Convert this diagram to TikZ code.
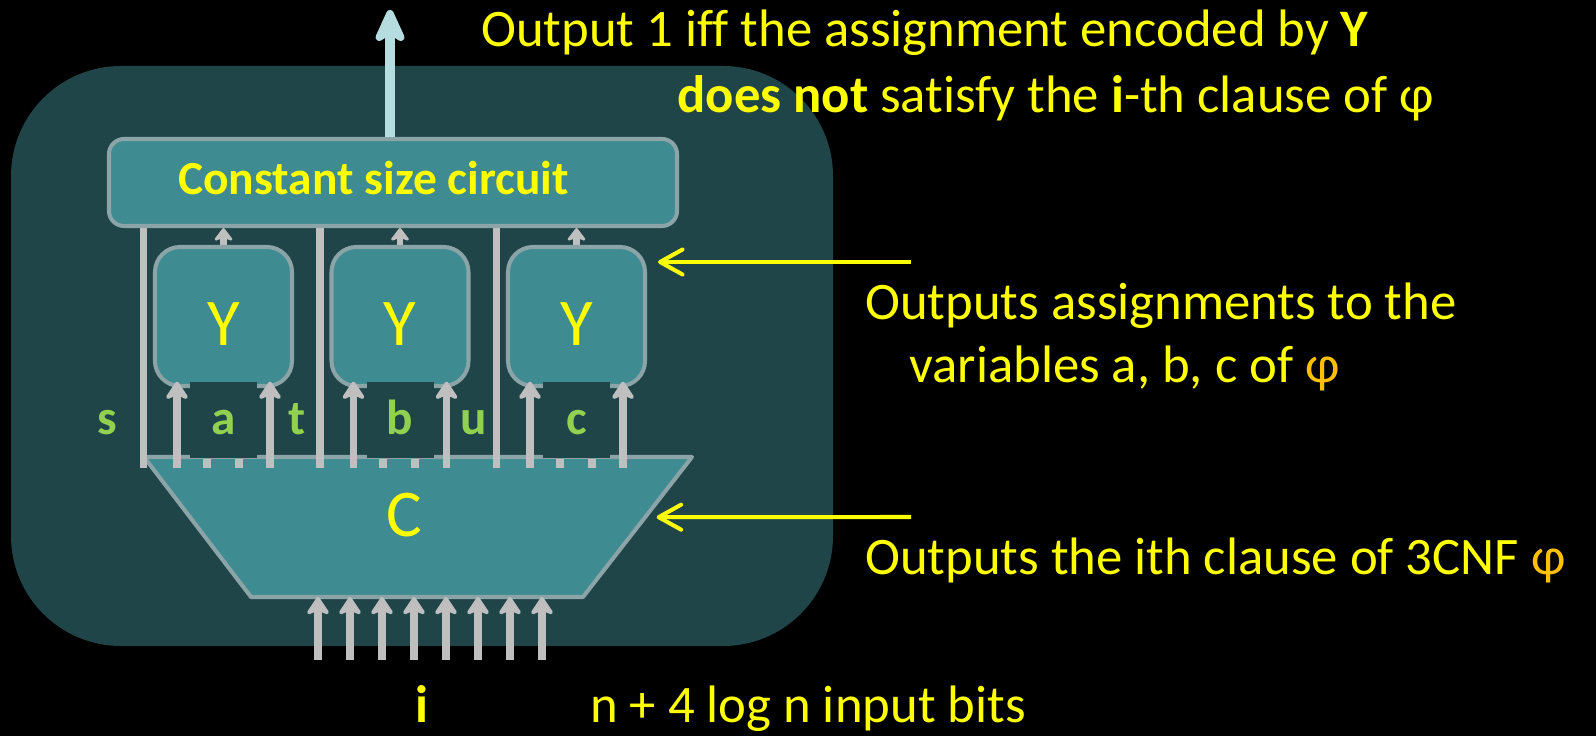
\documentclass[tikz,border=0pt]{standalone}
\usepackage{fontspec}
\setmainfont{Carlito}[Ligatures=CommonOff]
\usetikzlibrary{arrows.meta,positioning,calc,backgrounds}

\definecolor{panel}{HTML}{1F4549}
\definecolor{boxfill}{HTML}{3E8B91}
\definecolor{boxline}{HTML}{8BA4A7}
\definecolor{wiregray}{HTML}{BFBFBF}
\definecolor{outblue}{HTML}{B5DDE0}
\definecolor{yel}{HTML}{FFFF00}
\definecolor{lgreen}{HTML}{92D050}
\definecolor{phiorange}{HTML}{FFC000}

\newcommand{\txtfont}{\fontsize{30}{36}\selectfont}
\newcommand{\labfont}{\fontsize{28}{34}\selectfont\bfseries}
\newcommand{\gatefont}{\fontsize{38}{46}\selectfont}

\begin{document}
\begin{tikzpicture}[
    box/.style={rectangle, draw=boxline, fill=boxfill, line width=2.3pt, rounded corners=#1, inner sep=0pt},
    box/.default=6pt,
    ybox/.style={box=0.5cm, minimum width=2.74cm, minimum height=2.78cm, font=\gatefont, text=yel, text height=1.18cm, text depth=0cm},
    gap/.style={rectangle, fill=panel, minimum width=1.34cm, minimum height=1.52cm, inner sep=0pt, font=\labfont, text=lgreen, text height=0.6cm, text depth=0cm},
    lab/.style={font=\labfont, text=lgreen, inner sep=0pt, anchor=base},
    txt/.style={font=\txtfont, text=yel, inner sep=0pt, anchor=base west},
    dot/.style={rectangle, fill=wiregray, minimum width=0.16cm, minimum height=0.18cm, inner sep=0pt, anchor=north},
    wire/.style={draw=wiregray, line width=4pt},
    warr/.style={wire, -{Stealth[length=4.2mm, width=5.5mm, inset=1.2mm, round]}},
    yarr/.style={draw=yel, line width=2.3pt, -{Straight Barb[length=4.5mm, width=5mm, round]}}
]
\useasboundingbox (0,0) rectangle (31.92,14.72);

% canvas and panel
\begin{scope}[on background layer]
\fill[black] (0,0) rectangle (31.92,14.72);
\fill[panel, rounded corners=2.2cm] (0.22,1.8) rectangle (16.66,13.4);
\end{scope}

% Constant size circuit
\node[box=0.3cm, minimum width=11.36cm, minimum height=1.74cm] (cons) at (7.86,11.07) {};
\node[txt, font=\fontsize{27}{32}\selectfont\bfseries] (constxt) at (3.56,10.82) {Constant size circuit};

% output
\coordinate (out) at (7.8,14.52);
\draw[draw=outblue, line width=6pt, -{Stealth[length=8.5mm, width=7.6mm, inset=2.5mm, round]}] (cons.north -| out) -- (out);

% Y boxes
\foreach \g/\x in {1/4.47, 2/8.0, 3/11.53} {
  \node[ybox] (y\g) at (\x,8.39) {Y};
}

% C
\coordinate (ctl) at (2.88,5.58);
\coordinate (ctr) at (13.84,5.58);
\coordinate (cbr) at (11.66,2.78);
\coordinate (cbl) at (5.02,2.78);
\draw[draw=boxline, fill=boxfill, line width=2.3pt, line join=round] (ctl) -- (ctr) -- (cbr) -- (cbl) -- cycle;
\node[font=\gatefont, text=yel, anchor=base, inner sep=0pt] (clause) at (8.08,3.98) {C};

% wires between C and Y
\foreach \g/\x/\v in {1/4.47/a, 2/8.0/b, 3/11.53/c} {
  \node[gap] (g\g) at (\x,6.32) {\v};
  \node[dot] (dl\g) at ([xshift=-0.34cm, yshift=-0.01cm]g\g.south) {};
  \node[dot] (dr\g) at ([xshift=0.3cm, yshift=-0.01cm]g\g.south) {};
  \draw[warr] ([xshift=-0.93cm, yshift=-0.2cm]g\g.south) -- ([xshift=-0.93cm]g\g.north);
  \draw[warr] ([xshift=0.93cm, yshift=-0.2cm]g\g.south) -- ([xshift=0.93cm]g\g.north);
  \draw[wire] ($(g\g.south)+(-1.6,-0.2)$) -- ($(g\g.south |- cons.south)+(-1.6,0)$);
}
\node[lab] (ls) at (2.14,6.02) {s};
\node[lab] (lt) at (5.94,6.02) {t};
\node[lab] (lu) at (9.48,6.02) {u};

% Y outputs into the circuit
\begin{scope}[on background layer]
\foreach \g in {1,2,3}
  \draw[wire, line width=3.5pt, -{Stealth[length=3mm, width=4.5mm, inset=0.9mm, round]}] (y\g.north) -- (y\g.north |- cons.south);
\end{scope}

% input bits
\foreach \k in {0,...,7} {
  \coordinate (in\k) at ({6.36+0.64*\k},1.52);
  \draw[warr] (in\k) -- (in\k |- cbl);
}

% pointers
\coordinate (ptr1) at (18.22,9.48);
\coordinate (ptr2) at (18.22,4.38);
\draw[yarr] (ptr1) -- ($(y3.east |- ptr1)+(0.22,0)$);
\draw[yarr] (ptr2) -- ($(ctr)!0.43!(cbr)+(0.23,0)$);

% notes
\node[txt] (note1) at (9.62,13.78) {Output 1 iff the assignment encoded by \textbf{Y}};
\node[txt] (note2) at (13.54,12.46) {\textbf{does not} satisfy the \textbf{i}-th clause of φ};
\node[txt] (note3) at (17.3,8.32) {Outputs assignments to the};
\node[txt] (note4) at (18.18,7.06) {variables a, b, c of \textcolor{phiorange}{φ}};
\node[txt] (note5) at (17.3,3.22) {Outputs the ith clause of 3CNF \textcolor{phiorange}{φ}};
\node[txt, anchor=base, font=\txtfont\bfseries] (ibits) at (8.44,0.26) {i};
\node[txt] (nbits) at (11.8,0.26) {n + 4 log n input bits};

\end{tikzpicture}
\end{document}
